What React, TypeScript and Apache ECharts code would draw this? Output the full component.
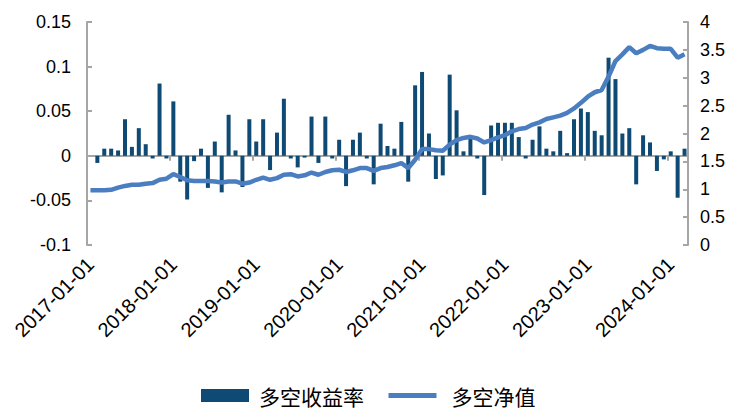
import { useEffect, useRef } from "react";
import * as echarts from "echarts";

// Monthly categories 2017-01 .. 2024-03
const categories: string[] = [];
for (let y = 2017; y <= 2024; y++) {
  for (let m = 1; m <= 12; m++) {
    if (y === 2024 && m > 3) break;
    categories.push(`${y}-${String(m).padStart(2, "0")}-01`);
  }
}

const seriesNames = ["多空收益率", "多空净值"];

// 多空收益率 (left axis)
const returns: number[] = [
  0, -0.008, 0.008, 0.008, 0.006, 0.041, 0.010, 0.031, 0.013, -0.003, 0.081, -0.003,
  0.061, -0.029, -0.049, -0.006, 0.008, -0.036, 0.016, -0.041, 0.046, 0.006, -0.035, 0.041,
  0.016, 0.041, -0.016, 0.026, 0.064, -0.003, -0.013, -0.002, 0.044, -0.008, 0.044, -0.003,
  0.018, -0.034, 0.018, 0.026, -0.003, -0.032, 0.036, 0.011, 0.008, 0.038, -0.029, 0.079,
  0.094, 0.025, -0.026, -0.022, 0.091, 0.051, 0.005, 0.021, -0.003, -0.044, 0.034, 0.037,
  0.037, 0.037, 0.021, -0.003, 0.018, 0.033, 0.008, 0.005, 0.028, 0.003, 0.041, 0.053,
  0.049, 0.028, 0.023, 0.110, 0.086, 0.025, 0.031, -0.032, 0.023, 0.015, -0.017, -0.004,
  0.005, -0.047, 0.008,
];

// 多空净值 (right axis)
const netValue: number[] = [
  0.98, 0.98, 0.98, 0.99, 1.03, 1.06, 1.08, 1.08, 1.10, 1.11, 1.17, 1.19,
  1.27, 1.22, 1.16, 1.15, 1.15, 1.15, 1.14, 1.12, 1.14, 1.14, 1.10, 1.12,
  1.17, 1.21, 1.17, 1.20, 1.26, 1.27, 1.23, 1.25, 1.30, 1.26, 1.31, 1.34,
  1.35, 1.31, 1.34, 1.38, 1.38, 1.33, 1.38, 1.40, 1.43, 1.47, 1.38, 1.53,
  1.72, 1.72, 1.70, 1.69, 1.80, 1.88, 1.92, 1.94, 1.91, 1.84, 1.88, 1.93,
  1.97, 2.04, 2.08, 2.10, 2.16, 2.20, 2.26, 2.29, 2.32, 2.37, 2.45, 2.55,
  2.66, 2.74, 2.78, 3.02, 3.30, 3.42, 3.55, 3.44, 3.50, 3.57, 3.53, 3.52,
  3.52, 3.36, 3.42,
];

const FONT = "'Liberation Sans', Arial, 'Noto Sans CJK SC', sans-serif";
const CJK = "'Noto Sans CJK SC', sans-serif";
const AXIS_GREY = "#a6a6a6";

export default function App() {
  const ref = useRef<HTMLDivElement>(null);
  useEffect(() => {
    document.body.style.margin = "0";
    if (!ref.current) return;
    const chart = echarts.init(ref.current, undefined, { renderer: "svg" });
    chart.setOption({
      animation: false,
      backgroundColor: "#ffffff",
      textStyle: { fontFamily: FONT },
      grid: { left: 87, right: 65, top: 22, bottom: 172, containLabel: false },
      legend: {
        left: 196,
        top: 380,
        itemWidth: 48,
        itemHeight: 13,
        itemGap: 22,
        textStyle: { fontSize: 21, color: "#000", fontFamily: CJK },
        data: [
          { name: seriesNames[0], icon: "rect", textStyle: { padding: [0, 0, 0, 5] } },
          {
            name: seriesNames[1],
            itemStyle: { color: "rgba(0,0,0,0)", borderWidth: 0 },
            lineStyle: { width: 5 },
            textStyle: { padding: [0, 0, 0, 10] },
          },
        ],
      },
      xAxis: [
        {
          type: "category",
          data: categories,
          boundaryGap: true,
          axisLine: { show: false, onZero: false },
          axisTick: { show: false },
          splitLine: { show: false },
          axisLabel: {
            interval: 11,
            rotate: 45,
            fontSize: 20,
            color: "#000",
            margin: 16,
          },
        },
        {
          type: "category",
          data: categories,
          boundaryGap: true,
          axisLine: { show: true, onZero: true, onZeroAxisIndex: 0, lineStyle: { color: AXIS_GREY, width: 2 } },
          axisTick: { show: true, inside: true, interval: 11, length: 5, lineStyle: { color: AXIS_GREY, width: 2 } },
          axisLabel: { show: false },
          splitLine: { show: false },
        },
      ],
      yAxis: [
        {
          type: "value",
          min: -0.1,
          max: 0.15,
          interval: 0.05,
          axisLine: { show: true, lineStyle: { color: AXIS_GREY, width: 2 } },
          axisTick: { show: true, inside: true, length: 5, lineStyle: { color: AXIS_GREY, width: 2 } },
          splitLine: { show: false },
          axisLabel: { fontSize: 18, color: "#000", margin: 16 },
        },
        {
          type: "value",
          min: 0,
          max: 4,
          interval: 0.5,
          position: "right",
          axisLine: { show: true, lineStyle: { color: AXIS_GREY, width: 2 } },
          axisTick: { show: true, inside: true, length: 5, lineStyle: { color: AXIS_GREY, width: 2 } },
          splitLine: { show: false },
          axisLabel: { fontSize: 18, color: "#000", margin: 12 },
        },
      ],
      series: [
        {
          name: seriesNames[0],
          type: "bar",
          xAxisIndex: 0,
          yAxisIndex: 0,
          data: returns,
          barWidth: 4,
          itemStyle: { color: "#0e4a73" },
          z: 2,
        },
        {
          name: seriesNames[1],
          type: "line",
          xAxisIndex: 0,
          yAxisIndex: 1,
          data: netValue,
          symbol: "none",
          lineStyle: { color: "#4a7ec1", width: 4.5 },
          itemStyle: { color: "#4a7ec1" },
          z: 3,
        },
      ],
    });
    return () => chart.dispose();
  }, []);
  return <div ref={ref} style={{ width: 753, height: 417 }} />;
}
